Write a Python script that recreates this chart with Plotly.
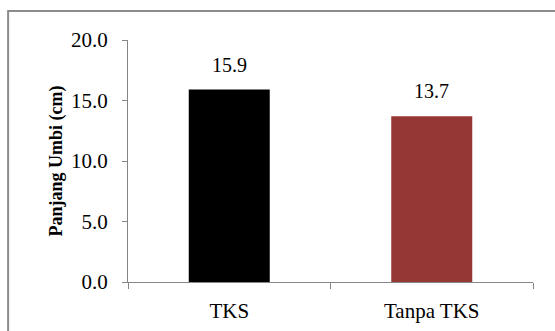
import plotly.graph_objects as go

# Tuber length per treatment
categories = ["TKS", "Tanpa TKS"]
values = [15.9, 13.7]
colors = ["#000000", "#953735"]
y_ticks = [0, 5, 10, 15, 20]
y_tick_labels = ["0.0", "5.0", "10.0", "15.0", "20.0"]

font_family = "Liberation Serif"
axis_gray = "#868686"

fig = go.Figure()
fig.add_trace(go.Bar(
    x=categories,
    y=values,
    marker=dict(color=colors, line=dict(width=0)),
    width=0.4,
    showlegend=False,
    hoverinfo="skip",
))

# Value labels above the bars
for cat, val in zip(categories, values):
    fig.add_annotation(
        x=cat, y=val, text=f"{val:.1f}",
        showarrow=False, yshift=25,
        font=dict(family=font_family, size=20, color="#000000"),
    )

# Outer chart frame
fig.add_shape(
    type="rect", xref="paper", yref="paper",
    x0=-0.296, x1=1.2, y0=-0.6, y1=1.12,
    line=dict(color="#8c8c8c", width=2),
    fillcolor="rgba(0,0,0,0)", layer="below",
)

fig.update_layout(
    width=555, height=331,
    margin=dict(l=128, r=22, t=40, b=49),
    plot_bgcolor="white", paper_bgcolor="white",
    font=dict(family=font_family, size=20, color="#000000"),
    bargap=0.6,
)
fig.update_xaxes(
    showline=True, linecolor=axis_gray, linewidth=1,
    ticks="outside", tickson="boundaries", ticklen=6, tickcolor=axis_gray,
    ticklabelstandoff=10,
    tickfont=dict(family=font_family, size=21),
    showgrid=False, zeroline=False,
    range=[-0.5, 1.5],
    automargin=False,
)
fig.update_yaxes(
    range=[0, 20],
    tickvals=y_ticks, ticktext=y_tick_labels,
    showline=True, linecolor=axis_gray, linewidth=1,
    ticks="outside", ticklen=5, tickcolor=axis_gray,
    ticklabelstandoff=10,
    tickfont=dict(family=font_family, size=21),
    showgrid=False, zeroline=False,
    title=dict(text="<b>Panjang Umbi (cm)</b>", font=dict(family=font_family, size=18), standoff=3),
    automargin=False,
)

fig.write_html("out.html")
